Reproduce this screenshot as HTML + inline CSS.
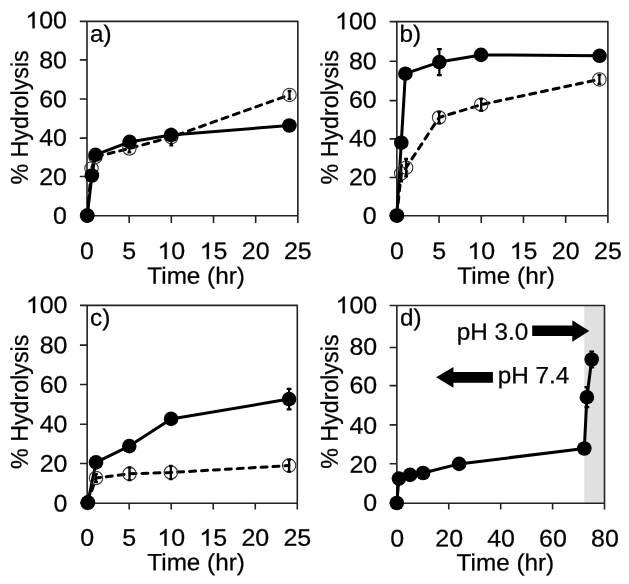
<!DOCTYPE html><html><head><meta charset="utf-8"><style>html,body{margin:0;padding:0;background:#fff;}svg{display:block;will-change:transform}text{stroke:#000;stroke-width:0.25px}</style></head><body>
<svg width="629" height="584" viewBox="0 0 629 584">
<rect width="629" height="584" fill="#fff"/>
<g font-family='"Liberation Sans", sans-serif' fill="#000" stroke-linejoin="round">
<path d="M79.80 21.40H297.85V223.00M87.00 21.40V215.70H297.85" fill="none" stroke="#222" stroke-width="1.6"/>
<path d="M79.80 215.70H87.00M79.80 176.50H87.00M79.80 138.10H87.00M79.80 99.00H87.00M79.80 59.90H87.00M87.00 215.70V223.00M129.17 215.70V223.00M171.34 215.70V223.00M213.51 215.70V223.00M255.68 215.70V223.00" fill="none" stroke="#222" stroke-width="1.6"/>
<text transform="translate(66.00 223.66) scale(1.04 1.0) rotate(0.05)" x="-12.41" font-size="24.0">0</text>
<text transform="translate(66.00 185.11) scale(1.04 1.0) rotate(0.05)" x="-25.76" font-size="24.0">20</text>
<text transform="translate(66.00 145.66) scale(1.04 1.0) rotate(0.05)" x="-25.76" font-size="24.0">40</text>
<text transform="translate(66.00 107.16) scale(1.04 1.0) rotate(0.05)" x="-25.76" font-size="24.0">60</text>
<text transform="translate(66.00 68.26) scale(1.04 1.0) rotate(0.05)" x="-25.76" font-size="24.0">80</text>
<g transform="translate(66.00 28.36) scale(1.04 1.0) rotate(0.05)"><text x="-39.11" font-size="24.0"><tspan fill="transparent" stroke="none">1</tspan>00</text><path transform="translate(-39.105 0) scale(0.011719 -0.011719)" stroke="#000" stroke-width="21.3" d="M763 0L583 0L583 1097.5Q518 1038.2 415 980.3Q312 922.4 223 890.8L223 1057.3Q371 1124.3 482.5 1219.5Q594 1314.7 651 1420.0L763 1420.0Z"/></g>
<text transform="translate(87.00 259.07) scale(1.04 1.0) rotate(0.05)" x="-6.67" font-size="24.0">0</text>
<text transform="translate(129.17 259.07) scale(1.04 1.0) rotate(0.05)" x="-6.67" font-size="24.0">5</text>
<g transform="translate(171.34 259.07) scale(1.04 1.0) rotate(0.05)"><text x="-13.35" font-size="24.0"><tspan fill="transparent" stroke="none">1</tspan>0</text><path transform="translate(-13.348 0) scale(0.011719 -0.011719)" stroke="#000" stroke-width="21.3" d="M763 0L583 0L583 1097.5Q518 1038.2 415 980.3Q312 922.4 223 890.8L223 1057.3Q371 1124.3 482.5 1219.5Q594 1314.7 651 1420.0L763 1420.0Z"/></g>
<g transform="translate(213.51 259.07) scale(1.04 1.0) rotate(0.05)"><text x="-13.35" font-size="24.0"><tspan fill="transparent" stroke="none">1</tspan>5</text><path transform="translate(-13.348 0) scale(0.011719 -0.011719)" stroke="#000" stroke-width="21.3" d="M763 0L583 0L583 1097.5Q518 1038.2 415 980.3Q312 922.4 223 890.8L223 1057.3Q371 1124.3 482.5 1219.5Q594 1314.7 651 1420.0L763 1420.0Z"/></g>
<text transform="translate(255.68 259.07) scale(1.04 1.0) rotate(0.05)" x="-13.35" font-size="24.0">20</text>
<text transform="translate(297.85 259.07) scale(1.04 1.0) rotate(0.05)" x="-13.35" font-size="24.0">25</text>
<text transform="translate(196.10 283.80) scale(1.03 1.0) rotate(0.05)" x="-47.38" font-size="23.6">Time (hr)</text>
<text transform="translate(27.90 117.40) scale(1.045 1) rotate(-89.95)" x="-67.17" font-size="23.25">% Hydrolysis</text>
<text transform="translate(91.00 41.80) scale(1.03 1.0) rotate(0.05)" x="-1.00" font-size="23.6">a)</text>
<polyline points="87.20,215.50 91.50,168.50 95.50,156.80 129.40,148.50 171.30,137.10 289.50,94.90" fill="none" stroke="#000" stroke-width="3.0" stroke-dasharray="6.0 5.93" stroke-dashoffset="-1.0" stroke-linecap="round" stroke-linejoin="round"/>
<polyline points="87.30,215.60 91.90,175.50 95.50,154.80 129.60,141.90 171.10,135.00 289.40,125.50" fill="none" stroke="#000" stroke-width="3.0" stroke-linejoin="round"/>
<circle cx="87.20" cy="215.50" r="6.7" fill="none" stroke="#333" stroke-width="1.1"/>
<circle cx="91.50" cy="168.50" r="6.7" fill="none" stroke="#333" stroke-width="1.1"/>
<circle cx="95.50" cy="156.80" r="6.7" fill="none" stroke="#333" stroke-width="1.1"/>
<circle cx="129.40" cy="148.50" r="6.7" fill="none" stroke="#333" stroke-width="1.1"/>
<path d="M129.40 144.70V152.30M127.50 144.70H131.30M127.50 152.30H131.30" stroke="#000" stroke-width="2.3" fill="none"/>
<circle cx="171.30" cy="137.10" r="6.7" fill="none" stroke="#333" stroke-width="1.1"/>
<path d="M171.30 128.80V145.40M169.40 128.80H173.20M169.40 145.40H173.20" stroke="#000" stroke-width="2.3" fill="none"/>
<circle cx="289.50" cy="94.90" r="6.7" fill="none" stroke="#333" stroke-width="1.1"/>
<path d="M289.50 91.00V98.80M287.60 91.00H291.40M287.60 98.80H291.40" stroke="#000" stroke-width="2.3" fill="none"/>
<circle cx="87.30" cy="215.60" r="7.3" fill="#000"/>
<circle cx="91.90" cy="175.50" r="7.3" fill="#000"/>
<circle cx="95.50" cy="154.80" r="7.3" fill="#000"/>
<circle cx="129.60" cy="141.90" r="7.3" fill="#000"/>
<circle cx="171.10" cy="135.00" r="7.3" fill="#000"/>
<circle cx="289.40" cy="125.50" r="7.3" fill="#000"/>
<path d="M389.65 21.60H607.90V223.00M396.85 21.60V215.70H607.90" fill="none" stroke="#222" stroke-width="1.6"/>
<path d="M389.65 215.70H396.85M389.65 177.45H396.85M389.65 138.90H396.85M389.65 100.60H396.85M389.65 61.27H396.85M396.85 215.70V223.00M439.06 215.70V223.00M481.27 215.70V223.00M523.48 215.70V223.00M565.69 215.70V223.00" fill="none" stroke="#222" stroke-width="1.6"/>
<text transform="translate(375.70 223.86) scale(1.04 1.0) rotate(0.05)" x="-12.41" font-size="24.0">0</text>
<text transform="translate(375.70 185.26) scale(1.04 1.0) rotate(0.05)" x="-25.76" font-size="24.0">20</text>
<text transform="translate(375.70 146.61) scale(1.04 1.0) rotate(0.05)" x="-25.76" font-size="24.0">40</text>
<text transform="translate(375.70 107.76) scale(1.04 1.0) rotate(0.05)" x="-25.76" font-size="24.0">60</text>
<text transform="translate(375.70 69.26) scale(1.04 1.0) rotate(0.05)" x="-25.76" font-size="24.0">80</text>
<g transform="translate(375.70 29.26) scale(1.04 1.0) rotate(0.05)"><text x="-39.11" font-size="24.0"><tspan fill="transparent" stroke="none">1</tspan>00</text><path transform="translate(-39.105 0) scale(0.011719 -0.011719)" stroke="#000" stroke-width="21.3" d="M763 0L583 0L583 1097.5Q518 1038.2 415 980.3Q312 922.4 223 890.8L223 1057.3Q371 1124.3 482.5 1219.5Q594 1314.7 651 1420.0L763 1420.0Z"/></g>
<text transform="translate(396.85 259.07) scale(1.04 1.0) rotate(0.05)" x="-6.67" font-size="24.0">0</text>
<text transform="translate(439.06 259.07) scale(1.04 1.0) rotate(0.05)" x="-6.67" font-size="24.0">5</text>
<g transform="translate(481.27 259.07) scale(1.04 1.0) rotate(0.05)"><text x="-13.35" font-size="24.0"><tspan fill="transparent" stroke="none">1</tspan>0</text><path transform="translate(-13.348 0) scale(0.011719 -0.011719)" stroke="#000" stroke-width="21.3" d="M763 0L583 0L583 1097.5Q518 1038.2 415 980.3Q312 922.4 223 890.8L223 1057.3Q371 1124.3 482.5 1219.5Q594 1314.7 651 1420.0L763 1420.0Z"/></g>
<g transform="translate(523.48 259.07) scale(1.04 1.0) rotate(0.05)"><text x="-13.35" font-size="24.0"><tspan fill="transparent" stroke="none">1</tspan>5</text><path transform="translate(-13.348 0) scale(0.011719 -0.011719)" stroke="#000" stroke-width="21.3" d="M763 0L583 0L583 1097.5Q518 1038.2 415 980.3Q312 922.4 223 890.8L223 1057.3Q371 1124.3 482.5 1219.5Q594 1314.7 651 1420.0L763 1420.0Z"/></g>
<text transform="translate(565.69 259.07) scale(1.04 1.0) rotate(0.05)" x="-13.35" font-size="24.0">20</text>
<text transform="translate(607.90 259.07) scale(1.04 1.0) rotate(0.05)" x="-13.35" font-size="24.0">25</text>
<text transform="translate(506.05 283.80) scale(1.03 1.0) rotate(0.05)" x="-47.38" font-size="23.6">Time (hr)</text>
<text transform="translate(337.90 117.30) scale(1.045 1) rotate(-89.95)" x="-67.17" font-size="23.25">% Hydrolysis</text>
<text transform="translate(401.00 41.80) scale(1.03 1.0) rotate(0.05)" x="-1.52" font-size="23.6">b)</text>
<polyline points="396.85,215.70 401.20,173.40 406.10,167.70 439.10,117.50 481.20,104.70 599.40,79.40" fill="none" stroke="#000" stroke-width="3.0" stroke-dasharray="6.0 5.93" stroke-dashoffset="-1.0" stroke-linecap="round" stroke-linejoin="round"/>
<polyline points="396.85,215.50 401.30,142.70 405.40,73.70 439.36,62.10 481.00,54.90 599.55,55.80" fill="none" stroke="#000" stroke-width="3.0" stroke-linejoin="round"/>
<circle cx="396.85" cy="215.70" r="6.7" fill="none" stroke="#333" stroke-width="1.1"/>
<circle cx="401.20" cy="173.40" r="6.7" fill="none" stroke="#333" stroke-width="1.1"/>
<path d="M401.20 165.40V181.40M399.30 165.40H403.10M399.30 181.40H403.10" stroke="#000" stroke-width="2.3" fill="none"/>
<circle cx="406.10" cy="167.70" r="6.7" fill="none" stroke="#333" stroke-width="1.1"/>
<path d="M406.10 159.00V176.40M404.20 159.00H408.00M404.20 176.40H408.00" stroke="#000" stroke-width="2.3" fill="none"/>
<circle cx="439.10" cy="117.50" r="6.7" fill="none" stroke="#333" stroke-width="1.1"/>
<path d="M439.10 112.00V123.00M437.20 112.00H441.00M437.20 123.00H441.00" stroke="#000" stroke-width="2.3" fill="none"/>
<circle cx="481.20" cy="104.70" r="6.7" fill="none" stroke="#333" stroke-width="1.1"/>
<path d="M481.20 98.90V110.50M479.30 98.90H483.10M479.30 110.50H483.10" stroke="#000" stroke-width="2.3" fill="none"/>
<circle cx="599.40" cy="79.40" r="6.7" fill="none" stroke="#333" stroke-width="1.1"/>
<path d="M599.40 74.90V83.90M597.50 74.90H601.30M597.50 83.90H601.30" stroke="#000" stroke-width="2.3" fill="none"/>
<circle cx="396.85" cy="215.50" r="7.3" fill="#000"/>
<circle cx="401.30" cy="142.70" r="7.3" fill="#000"/>
<circle cx="405.40" cy="73.70" r="7.3" fill="#000"/>
<path d="M439.36 49.10V75.10M436.96 49.10H441.76M436.96 75.10H441.76" stroke="#000" stroke-width="2.2" fill="none"/>
<circle cx="439.36" cy="62.10" r="7.3" fill="#000"/>
<circle cx="481.00" cy="54.90" r="7.3" fill="#000"/>
<circle cx="599.55" cy="55.80" r="7.3" fill="#000"/>
<path d="M79.95 305.40H297.30V509.50M87.15 305.40V503.30H297.30" fill="none" stroke="#222" stroke-width="1.6"/>
<path d="M79.95 503.30H87.15M79.95 463.50H87.15M79.95 424.20H87.15M79.95 384.50H87.15M79.95 345.10H87.15M87.15 503.30V509.50M129.18 503.30V509.50M171.21 503.30V509.50M213.24 503.30V509.50M255.27 503.30V509.50" fill="none" stroke="#222" stroke-width="1.6"/>
<text transform="translate(66.50 511.46) scale(1.04 1.0) rotate(0.05)" x="-12.41" font-size="24.0">0</text>
<text transform="translate(66.50 471.76) scale(1.04 1.0) rotate(0.05)" x="-25.76" font-size="24.0">20</text>
<text transform="translate(66.50 432.16) scale(1.04 1.0) rotate(0.05)" x="-25.76" font-size="24.0">40</text>
<text transform="translate(66.50 392.66) scale(1.04 1.0) rotate(0.05)" x="-25.76" font-size="24.0">60</text>
<text transform="translate(66.50 353.36) scale(1.04 1.0) rotate(0.05)" x="-25.76" font-size="24.0">80</text>
<g transform="translate(66.50 313.06) scale(1.04 1.0) rotate(0.05)"><text x="-39.11" font-size="24.0"><tspan fill="transparent" stroke="none">1</tspan>00</text><path transform="translate(-39.105 0) scale(0.011719 -0.011719)" stroke="#000" stroke-width="21.3" d="M763 0L583 0L583 1097.5Q518 1038.2 415 980.3Q312 922.4 223 890.8L223 1057.3Q371 1124.3 482.5 1219.5Q594 1314.7 651 1420.0L763 1420.0Z"/></g>
<text transform="translate(87.15 545.67) scale(1.04 1.0) rotate(0.05)" x="-6.67" font-size="24.0">0</text>
<text transform="translate(129.18 545.67) scale(1.04 1.0) rotate(0.05)" x="-6.67" font-size="24.0">5</text>
<g transform="translate(171.21 545.67) scale(1.04 1.0) rotate(0.05)"><text x="-13.35" font-size="24.0"><tspan fill="transparent" stroke="none">1</tspan>0</text><path transform="translate(-13.348 0) scale(0.011719 -0.011719)" stroke="#000" stroke-width="21.3" d="M763 0L583 0L583 1097.5Q518 1038.2 415 980.3Q312 922.4 223 890.8L223 1057.3Q371 1124.3 482.5 1219.5Q594 1314.7 651 1420.0L763 1420.0Z"/></g>
<g transform="translate(213.24 545.67) scale(1.04 1.0) rotate(0.05)"><text x="-13.35" font-size="24.0"><tspan fill="transparent" stroke="none">1</tspan>5</text><path transform="translate(-13.348 0) scale(0.011719 -0.011719)" stroke="#000" stroke-width="21.3" d="M763 0L583 0L583 1097.5Q518 1038.2 415 980.3Q312 922.4 223 890.8L223 1057.3Q371 1124.3 482.5 1219.5Q594 1314.7 651 1420.0L763 1420.0Z"/></g>
<text transform="translate(255.27 545.67) scale(1.04 1.0) rotate(0.05)" x="-13.35" font-size="24.0">20</text>
<text transform="translate(297.30 545.67) scale(1.04 1.0) rotate(0.05)" x="-13.35" font-size="24.0">25</text>
<text transform="translate(196.10 570.30) scale(1.03 1.0) rotate(0.05)" x="-47.38" font-size="23.6">Time (hr)</text>
<text transform="translate(27.90 401.80) scale(1.045 1) rotate(-89.95)" x="-67.17" font-size="23.25">% Hydrolysis</text>
<text transform="translate(91.00 325.60) scale(1.03 1.0) rotate(0.05)" x="-1.00" font-size="23.6">c)</text>
<polyline points="87.60,503.00 96.00,478.00 129.50,473.80 170.80,472.50 289.10,465.60" fill="none" stroke="#000" stroke-width="3.0" stroke-dasharray="6.0 5.93" stroke-dashoffset="-1.0" stroke-linecap="round" stroke-linejoin="round"/>
<polyline points="87.90,502.40 96.00,462.40 129.30,446.10 171.10,418.90 289.10,399.10" fill="none" stroke="#000" stroke-width="3.0" stroke-linejoin="round"/>
<circle cx="87.60" cy="503.00" r="6.7" fill="none" stroke="#333" stroke-width="1.1"/>
<circle cx="96.00" cy="478.00" r="6.7" fill="none" stroke="#333" stroke-width="1.1"/>
<path d="M96.00 474.00V482.00M94.10 474.00H97.90M94.10 482.00H97.90" stroke="#000" stroke-width="2.3" fill="none"/>
<circle cx="129.50" cy="473.80" r="6.7" fill="none" stroke="#333" stroke-width="1.1"/>
<path d="M129.50 467.50V480.10M127.60 467.50H131.40M127.60 480.10H131.40" stroke="#000" stroke-width="2.3" fill="none"/>
<circle cx="170.80" cy="472.50" r="6.7" fill="none" stroke="#333" stroke-width="1.1"/>
<path d="M170.80 465.80V479.20M168.90 465.80H172.70M168.90 479.20H172.70" stroke="#000" stroke-width="2.3" fill="none"/>
<circle cx="289.10" cy="465.60" r="6.7" fill="none" stroke="#333" stroke-width="1.1"/>
<path d="M289.10 459.60V471.60M287.20 459.60H291.00M287.20 471.60H291.00" stroke="#000" stroke-width="2.3" fill="none"/>
<circle cx="87.90" cy="502.40" r="7.3" fill="#000"/>
<circle cx="96.00" cy="462.40" r="7.3" fill="#000"/>
<circle cx="129.30" cy="446.10" r="7.3" fill="#000"/>
<circle cx="171.10" cy="418.90" r="7.3" fill="#000"/>
<path d="M289.10 388.80V409.40M286.70 388.80H291.50M286.70 409.40H291.50" stroke="#000" stroke-width="2.2" fill="none"/>
<circle cx="289.10" cy="399.10" r="7.3" fill="#000"/>
<rect x="584.30" y="305.50" width="19.40" height="197.80" fill="#e0e0e0"/>
<path d="M389.65 305.50H604.50V509.50M396.85 305.50V503.30H604.50" fill="none" stroke="#222" stroke-width="1.6"/>
<path d="M389.65 503.30H396.85M389.65 463.80H396.85M389.65 424.90H396.85M389.65 385.65H396.85M389.65 347.55H396.85M396.85 503.30V509.50M448.76 503.30V509.50M500.68 503.30V509.50M552.59 503.30V509.50" fill="none" stroke="#222" stroke-width="1.6"/>
<text transform="translate(376.20 510.86) scale(1.04 1.0) rotate(0.05)" x="-12.41" font-size="24.0">0</text>
<text transform="translate(376.20 472.76) scale(1.04 1.0) rotate(0.05)" x="-25.76" font-size="24.0">20</text>
<text transform="translate(376.20 433.71) scale(1.04 1.0) rotate(0.05)" x="-25.76" font-size="24.0">40</text>
<text transform="translate(376.20 393.36) scale(1.04 1.0) rotate(0.05)" x="-25.76" font-size="24.0">60</text>
<text transform="translate(376.20 354.86) scale(1.04 1.0) rotate(0.05)" x="-25.76" font-size="24.0">80</text>
<g transform="translate(376.20 313.26) scale(1.04 1.0) rotate(0.05)"><text x="-39.11" font-size="24.0"><tspan fill="transparent" stroke="none">1</tspan>00</text><path transform="translate(-39.105 0) scale(0.011719 -0.011719)" stroke="#000" stroke-width="21.3" d="M763 0L583 0L583 1097.5Q518 1038.2 415 980.3Q312 922.4 223 890.8L223 1057.3Q371 1124.3 482.5 1219.5Q594 1314.7 651 1420.0L763 1420.0Z"/></g>
<text transform="translate(397.25 546.47) scale(1.04 1.0) rotate(0.05)" x="-6.67" font-size="24.0">0</text>
<text transform="translate(449.16 546.47) scale(1.04 1.0) rotate(0.05)" x="-13.35" font-size="24.0">20</text>
<text transform="translate(501.07 546.47) scale(1.04 1.0) rotate(0.05)" x="-13.35" font-size="24.0">40</text>
<text transform="translate(552.99 546.47) scale(1.04 1.0) rotate(0.05)" x="-13.35" font-size="24.0">60</text>
<text transform="translate(604.90 546.47) scale(1.04 1.0) rotate(0.05)" x="-13.35" font-size="24.0">80</text>
<text transform="translate(505.40 570.50) scale(1.03 1.0) rotate(0.05)" x="-47.38" font-size="23.6">Time (hr)</text>
<text transform="translate(337.90 401.60) scale(1.045 1) rotate(-89.95)" x="-67.17" font-size="23.25">% Hydrolysis</text>
<text transform="translate(401.00 325.60) scale(1.03 1.0) rotate(0.05)" x="-0.99" font-size="23.6">d)</text>
<polyline points="396.80,503.00 398.90,478.60 410.05,474.90 423.10,473.00 459.10,463.90 584.30,448.50 586.90,397.20 591.70,359.50" fill="none" stroke="#000" stroke-width="3.0" stroke-linejoin="round"/>
<circle cx="396.80" cy="503.00" r="7.3" fill="#000"/>
<circle cx="398.90" cy="478.60" r="7.3" fill="#000"/>
<circle cx="410.05" cy="474.90" r="7.3" fill="#000"/>
<circle cx="423.10" cy="473.00" r="7.3" fill="#000"/>
<circle cx="459.10" cy="463.90" r="7.3" fill="#000"/>
<circle cx="584.30" cy="448.50" r="7.3" fill="#000"/>
<path d="M586.90 387.20V407.20M584.50 387.20H589.30M584.50 407.20H589.30" stroke="#000" stroke-width="2.2" fill="none"/>
<circle cx="586.90" cy="397.20" r="7.3" fill="#000"/>
<path d="M591.70 351.50V367.50M589.30 351.50H594.10M589.30 367.50H594.10" stroke="#000" stroke-width="2.2" fill="none"/>
<circle cx="591.70" cy="359.50" r="7.3" fill="#000"/>
<path d="M532.2 325.6H572.3V320.3L589.3 331.1L572.3 341.8V335.9H532.2Z" fill="#000"/>
<path d="M492.9 372H453.4V366.9L436.1 377.3L453.4 387.8V382.8H492.9Z" fill="#000"/>
<text transform="translate(458.30 339.70) scale(1.03 1.0) rotate(0.05)" x="-1.52" font-size="23.6">pH 3.0</text>
<text transform="translate(499.20 383.30) scale(1.03 1.0) rotate(0.05)" x="-1.52" font-size="23.6">pH 7.4</text>
</g></svg></body></html>
